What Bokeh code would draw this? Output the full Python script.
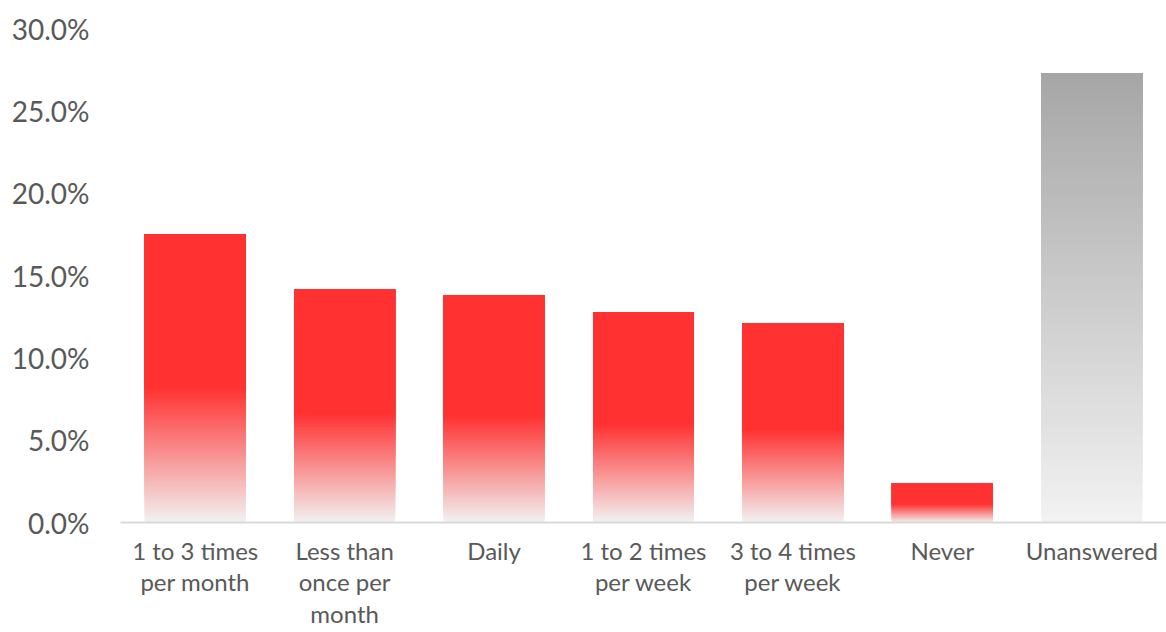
from bokeh.plotting import figure
from bokeh.models import Range1d, FixedTicker, PrintfTickFormatter, ColumnDataSource
from bokeh.embed import file_html
from bokeh.resources import INLINE

# Survey answers: how often respondents do the activity (share of respondents, %)
categories = ["1 to 3 times\nper month", "Less than\nonce per\nmonth", "Daily",
              "1 to 2 times\nper week", "3 to 4 times\nper week", "Never", "Unanswered"]
shares = [17.5, 14.15, 13.8, 12.75, 12.1, 2.4, 27.3]
answered = [True, True, True, True, True, True, False]
y_ticks = [0, 5, 10, 15, 20, 25, 30]

RED = (255, 49, 49)
PALE = (242, 242, 242)
GREY_TOP = (166, 166, 166)
BAR_HALF = 0.3375
FADE = 0.47      # lower share of each red bar that fades to pale grey
STEPS = 80


def mix(c0, c1, t):
    return "#%02x%02x%02x" % tuple(round(a + (b - a) * t) for a, b in zip(c0, c1))


# Each bar is painted bottom-up as overlapping bands: band k runs from its own
# start to the bar top, so later bands cover earlier ones without seams.
left, right, bottom, top, color = [], [], [], [], []
for i, (v, ok) in enumerate(zip(shares, answered)):
    x = i + 1
    if ok:
        fade_top = v * FADE
        for k in range(STEPS):
            left.append(x - BAR_HALF); right.append(x + BAR_HALF)
            bottom.append(fade_top * k / STEPS); top.append(v)
            color.append(mix(PALE, RED, (k + 0.5) / STEPS))
        left.append(x - BAR_HALF); right.append(x + BAR_HALF)
        bottom.append(fade_top); top.append(v); color.append(mix(RED, RED, 0))
    else:
        for k in range(STEPS):
            left.append(x - BAR_HALF); right.append(x + BAR_HALF)
            bottom.append(v * k / STEPS); top.append(v)
            color.append(mix(PALE, GREY_TOP, (k + 0.5) / STEPS))

src = ColumnDataSource(dict(left=left, right=right, bottom=bottom, top=top, color=color))

p = figure(width=1166, height=632, output_backend="svg", toolbar_location=None,
           x_range=Range1d(0.5, len(categories) + 0.5), y_range=Range1d(0, 30),
           min_border_left=120, min_border_right=0, min_border_top=28, min_border_bottom=110)
p.quad(left="left", right="right", bottom="bottom", top="top", source=src,
       fill_color="color", line_color=None)

p.outline_line_color = None
p.xgrid.visible = False
p.ygrid.visible = False
p.background_fill_color = "white"
p.border_fill_color = "white"

TEXT = "#595959"
FONT = "Lato"

p.yaxis.ticker = FixedTicker(ticks=y_ticks)
p.yaxis.formatter = PrintfTickFormatter(format="%.1f%%")
p.yaxis.axis_line_color = None
p.yaxis.major_tick_line_color = None
p.yaxis.minor_tick_line_color = None
p.yaxis.major_label_text_font = FONT
p.yaxis.major_label_text_font_size = "28px"
p.yaxis.major_label_text_color = TEXT
p.yaxis.major_label_standoff = 25

p.xaxis.ticker = FixedTicker(ticks=list(range(1, len(categories) + 1)))
p.xaxis.major_label_overrides = {i + 1: c for i, c in enumerate(categories)}
p.xaxis.axis_line_color = "#d9d9d9"
p.xaxis.axis_line_width = 2
p.xaxis.major_tick_line_color = None
p.xaxis.minor_tick_line_color = None
p.xaxis.major_tick_in = 0
p.xaxis.major_tick_out = 0
p.xaxis.minor_tick_in = 0
p.xaxis.minor_tick_out = 0
p.xaxis.major_label_text_font = FONT
p.xaxis.major_label_text_font_size = "24px"
p.xaxis.major_label_text_color = TEXT
p.xaxis.major_label_text_line_height = 1.1
p.xaxis.major_label_standoff = 13

open("out.html", "w").write(file_html(p, INLINE))
